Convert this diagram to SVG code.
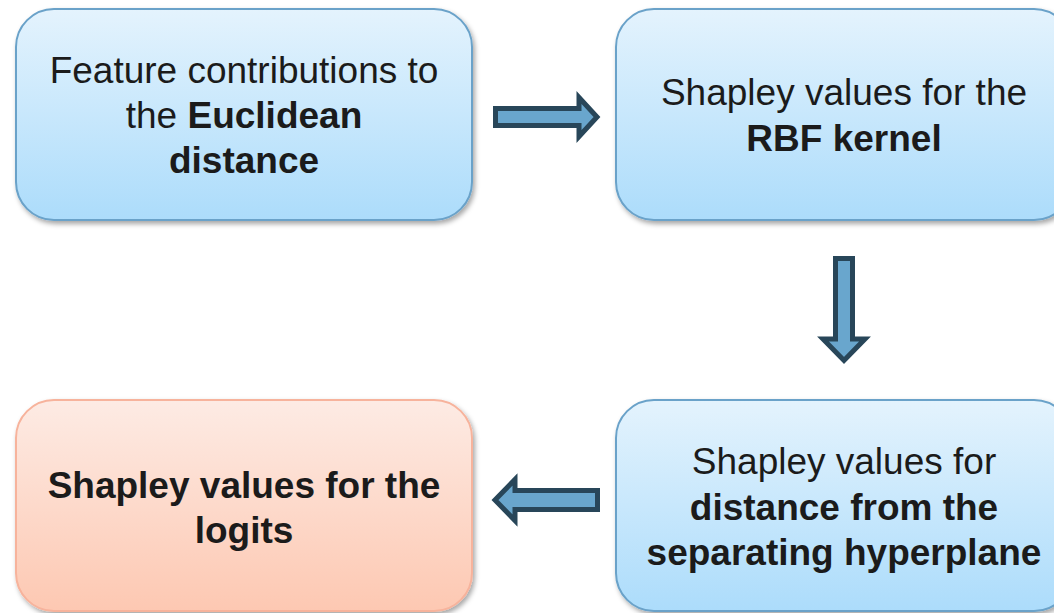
<svg xmlns="http://www.w3.org/2000/svg" width="1054" height="613" viewBox="0 0 1054 613">
  <defs>
    <linearGradient id="gBlue" x1="0" y1="0" x2="0" y2="1">
      <stop offset="0" stop-color="#e4f3fd"/>
      <stop offset="1" stop-color="#acdcfb"/>
    </linearGradient>
    <linearGradient id="gPeach" x1="0" y1="0" x2="0" y2="1">
      <stop offset="0" stop-color="#fdebe4"/>
      <stop offset="1" stop-color="#fdc8b2"/>
    </linearGradient>
    <filter id="shadow" x="-5%" y="-5%" width="112%" height="115%">
      <feDropShadow dx="2" dy="3" stdDeviation="2.5" flood-color="#000" flood-opacity="0.35"/>
    </filter>
  </defs>
  <style>
    .box { stroke-width: 2; filter: url(#shadow); }
    .blue { fill: url(#gBlue); stroke: #6aa2c9; }
    .peach { fill: url(#gPeach); stroke: #f7b39c; }
    .lbl { font-family: "Liberation Sans", Arial, sans-serif; font-size: 37px; fill: #1b1b1b; text-anchor: middle; }
    .b { font-weight: bold; }
    .arrow { fill: #69a6cd; stroke: #284659; stroke-width: 5; stroke-linejoin: miter; }
  </style>

  <rect width="1054" height="613" fill="#ffffff"/>

  <g id="node-euclidean">
    <rect class="box blue" x="16" y="9" width="456" height="211" rx="38"/>
    <text class="lbl" x="244" y="83">Feature contributions to</text>
    <text class="lbl" x="244" y="128">the <tspan class="b">Euclidean</tspan></text>
    <text class="lbl b" x="244" y="173">distance</text>
  </g>

  <g id="node-rbf">
    <rect class="box blue" x="616" y="9" width="456" height="211" rx="38"/>
    <text class="lbl" x="844" y="105">Shapley values for the</text>
    <text class="lbl b" x="844" y="151">RBF kernel</text>
  </g>

  <g id="node-hyperplane">
    <rect class="box blue" x="616" y="400" width="456" height="211" rx="38"/>
    <text class="lbl" x="844" y="474">Shapley values for</text>
    <text class="lbl b" x="844" y="520">distance from the</text>
    <text class="lbl b" x="844" y="565">separating hyperplane</text>
  </g>

  <g id="node-logits">
    <rect class="box peach" x="16" y="400" width="456" height="211" rx="38"/>
    <text class="lbl b" x="244" y="498">Shapley values for the</text>
    <text class="lbl b" x="244" y="543">logits</text>
  </g>

  <g id="connectors">
    <polygon class="arrow" points="495.5,108.5 579,108.5 579,97.5 597,117 579,136.5 579,125.5 495.5,125.5"/>
    <polygon class="arrow" points="835.5,258.5 852.5,258.5 852.5,339 865,339 844,360.5 823,339 835.5,339"/>
    <polygon class="arrow" points="597.5,490.5 515,490.5 515,479.5 495,500 515,520.5 515,509.5 597.5,509.5"/>
  </g>
</svg>
